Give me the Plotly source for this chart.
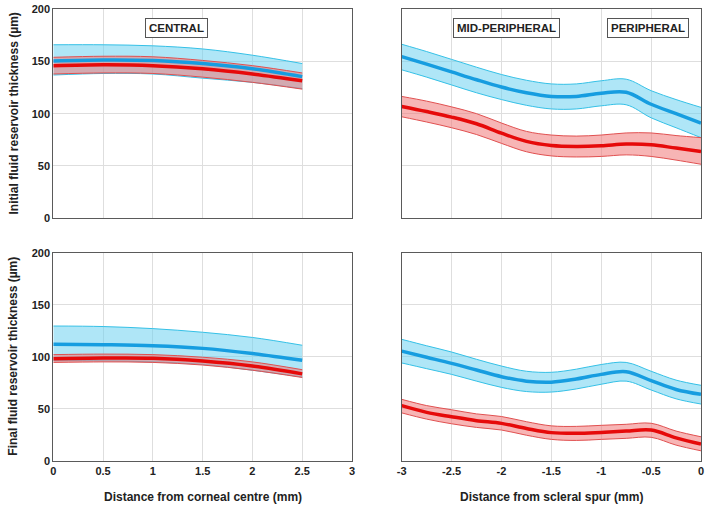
import plotly.graph_objects as go

# ---------------- data ----------------
x_central = [0, 0.5, 1, 1.5, 2, 2.5]
x_periph = [-3, -2.75, -2.5, -2.25, -2, -1.75, -1.5, -1.25, -1, -0.75, -0.5, -0.25, 0]

# Initial, central
ic_blue = [150.5, 151.5, 151, 148, 143, 135.5]
ic_blue_up = [166, 166, 165, 162, 156, 148]
ic_blue_lo = [137, 138.5, 138, 134, 130, 124]
ic_red = [145.8, 146.8, 146, 143, 138, 131.5]
ic_red_up = [154, 155, 154.5, 151, 146, 139]
ic_red_lo = [138, 139, 138.5, 135, 130, 123.5]

# Final, central
fc_blue = [112, 111.5, 110.5, 108, 103, 96.5]
fc_blue_up = [129.5, 129, 127, 123.5, 118.5, 111]
fc_blue_lo = [96, 96, 95, 92.5, 87, 80.5]
fc_red = [98, 98.7, 98.5, 95.8, 91, 83.5]
fc_red_up = [102, 102.5, 102, 99.5, 95, 87.5]
fc_red_lo = [94.5, 95, 94.5, 92, 87, 80]

# Initial, peripheral
ip_blue = [154.7, 147.5, 140, 132.5, 125.5, 120, 116.5, 116.5, 119.6, 120.5, 109, 100, 91]
ip_blue_up = [166.5, 159.5, 152, 144.5, 137.5, 132, 128.5, 128.5, 131.5, 133, 122, 113.5, 106]
ip_blue_lo = [142, 135, 127.5, 120, 113.5, 108, 104.5, 104.5, 107.5, 108.5, 96, 86.5, 77]
ip_red = [106.9, 102, 96.7, 90.3, 81.3, 73.4, 69.5, 68.6, 69.2, 70.8, 70.2, 67, 63.8]
ip_red_up = [116.5, 112, 106.5, 100, 91, 83, 79.5, 78.5, 79.5, 81.5, 81.5, 79, 77]
ip_red_lo = [97, 92, 86.5, 80, 71.5, 63.5, 59.5, 58.5, 59, 60.5, 59, 55.5, 51.5]

# Final, peripheral
fp_blue = [105.4, 99.5, 93.6, 87.2, 80.8, 76.5, 75.5, 78.5, 83, 85.5, 77, 68.5, 63.8]
fp_blue_up = [116.7, 110.5, 104.5, 97.5, 91, 86, 85, 88, 92.5, 94.5, 86, 77.5, 72.5]
fp_blue_lo = [94, 88.5, 83, 76.5, 70.5, 66.5, 66, 69, 73.5, 76.5, 68, 59.5, 54.5]
fp_red = [52.9, 46.5, 42.3, 38.5, 35.9, 31, 27, 26.3, 27.2, 28.5, 29.5, 22, 16]
fp_red_up = [59, 53, 49, 45, 42.5, 37.5, 33.5, 33, 34, 35, 36, 28.5, 23]
fp_red_lo = [46, 40, 35.5, 32, 29.5, 24.5, 20.5, 19.5, 20.5, 21.5, 22.5, 15, 9.5]

y_ticks = [0, 50, 100, 150, 200]
x_ticks_central = [0, 0.5, 1, 1.5, 2, 2.5, 3]
x_tick_labels_central = ["0", "0.5", "1", "1.5", "2", "2.5", "3"]
x_ticks_periph = [-3, -2.5, -2, -1.5, -1, -0.5, 0]
x_tick_labels_periph = ["-3", "-2.5", "-2", "-1.5", "-1", "-0.5", "0"]

# ---------------- styles ----------------
BLUE = "#169de0"
BLUE_FILL = "rgba(110,210,240,0.55)"
BLUE_EDGE = "#35c0e6"
RED = "#e60a0a"
RED_FILL = "rgba(240,120,120,0.55)"
RED_EDGE = "#e05050"
FONT = "Liberation Sans, Arial, sans-serif"

fig = go.Figure()


def add_panel(xs, blue, bup, blo, red, rup, rlo, xa, ya):
    common = dict(xaxis=xa, yaxis=ya, showlegend=False, hoverinfo="skip")
    sp = dict(shape="spline", smoothing=1)
    fig.add_trace(go.Scatter(x=xs, y=blo, mode="lines",
                             line=dict(color=BLUE_EDGE, width=1, **sp), **common))
    fig.add_trace(go.Scatter(x=xs, y=bup, mode="lines", fill="tonexty",
                             fillcolor=BLUE_FILL,
                             line=dict(color=BLUE_EDGE, width=1, **sp), **common))
    fig.add_trace(go.Scatter(x=xs, y=rlo, mode="lines",
                             line=dict(color=RED_EDGE, width=1, **sp), **common))
    fig.add_trace(go.Scatter(x=xs, y=rup, mode="lines", fill="tonexty",
                             fillcolor=RED_FILL,
                             line=dict(color=RED_EDGE, width=1, **sp), **common))
    fig.add_trace(go.Scatter(x=xs, y=blue, mode="lines",
                             line=dict(color=BLUE, width=3.5, **sp), **common))
    fig.add_trace(go.Scatter(x=xs, y=red, mode="lines",
                             line=dict(color=RED, width=3.5, **sp), **common))


add_panel(x_central, ic_blue, ic_blue_up, ic_blue_lo, ic_red, ic_red_up, ic_red_lo, "x", "y")
add_panel(x_periph, ip_blue, ip_blue_up, ip_blue_lo, ip_red, ip_red_up, ip_red_lo, "x2", "y2")
add_panel(x_central, fc_blue, fc_blue_up, fc_blue_lo, fc_red, fc_red_up, fc_red_lo, "x3", "y3")
add_panel(x_periph, fp_blue, fp_blue_up, fp_blue_lo, fp_red, fp_red_up, fp_red_lo, "x4", "y4")

W, H = 709, 508
left_dom = [53.3 / W, 352 / W]
right_dom = [401.7 / W, 701 / W]
top_dom = [1 - 218 / H, 1 - 9.3 / H]
bot_dom = [1 - 460.7 / H, 1 - 252.7 / H]

tickfont = dict(family=FONT, size=11, color="#222", weight="bold")
axis_common = dict(showline=True, linecolor="#5a5a5a", linewidth=1, mirror=True,
                   showgrid=True, gridcolor="#dedede", gridwidth=1,
                   zeroline=False, ticks="", tickfont=tickfont, automargin=False)

fig.update_layout(
    template="none",
    width=W, height=H,
    margin=dict(l=0, r=0, t=0, b=0, pad=0, autoexpand=False),
    paper_bgcolor="white", plot_bgcolor="white",
    xaxis=dict(domain=left_dom, anchor="y", range=[0, 3], tickvals=x_ticks_central,
               showticklabels=False, **axis_common),
    yaxis=dict(domain=top_dom, anchor="x", range=[0, 200], tickvals=y_ticks, **axis_common),
    xaxis2=dict(domain=right_dom, anchor="y2", range=[-3, 0], tickvals=x_ticks_periph,
                showticklabels=False, **axis_common),
    yaxis2=dict(domain=top_dom, anchor="x2", range=[0, 200], tickvals=y_ticks,
                showticklabels=False, **axis_common),
    xaxis3=dict(domain=left_dom, anchor="y3", range=[0, 3], tickvals=x_ticks_central,
                ticktext=x_tick_labels_central, **axis_common),
    yaxis3=dict(domain=bot_dom, anchor="x3", range=[0, 200], tickvals=y_ticks, **axis_common),
    xaxis4=dict(domain=right_dom, anchor="y4", range=[-3, 0], tickvals=x_ticks_periph,
                ticktext=x_tick_labels_periph, **axis_common),
    yaxis4=dict(domain=bot_dom, anchor="x4", range=[0, 200], tickvals=y_ticks,
                showticklabels=False, **axis_common),
)

title_font = dict(family=FONT, size=12, color="#222", weight="bold")
box_font = dict(family=FONT, size=11.5, color="#222", weight="bold")

annotations = [
    dict(text="Initial fluid reservoir thickness (µm)", x=13 / W, y=1 - 113.5 / H,
         xref="paper", yref="paper", xanchor="center", yanchor="middle",
         textangle=-90, showarrow=False, font=title_font),
    dict(text="Final fluid reservoir thickness (µm)", x=13 / W, y=1 - 356.7 / H,
         xref="paper", yref="paper", xanchor="center", yanchor="middle",
         textangle=-90, showarrow=False, font=title_font),
    dict(text="Distance from corneal centre (mm)", x=(53.3 + 352) / 2 / W, y=1 - 496.5 / H,
         xref="paper", yref="paper", xanchor="center", yanchor="middle",
         showarrow=False, font=title_font),
    dict(text="Distance from scleral spur (mm)", x=(401.7 + 701) / 2 / W, y=1 - 496.5 / H,
         xref="paper", yref="paper", xanchor="center", yanchor="middle",
         showarrow=False, font=title_font),
]
for txt, cx in [("CENTRAL", 176), ("MID-PERIPHERAL", 506), ("PERIPHERAL", 647.5)]:
    annotations.append(dict(text=txt, x=cx / W, y=1 - 28 / H, xref="paper", yref="paper",
                            xanchor="center", yanchor="middle",
                            showarrow=False, font=box_font, bgcolor="white",
                            bordercolor="#555", borderwidth=1, borderpad=3))
fig.update_layout(annotations=annotations)

fig.write_html("out.html", config={"displayModeBar": False},
               post_script="document.body.style.margin='0px';document.body.style.overflow='hidden';")
